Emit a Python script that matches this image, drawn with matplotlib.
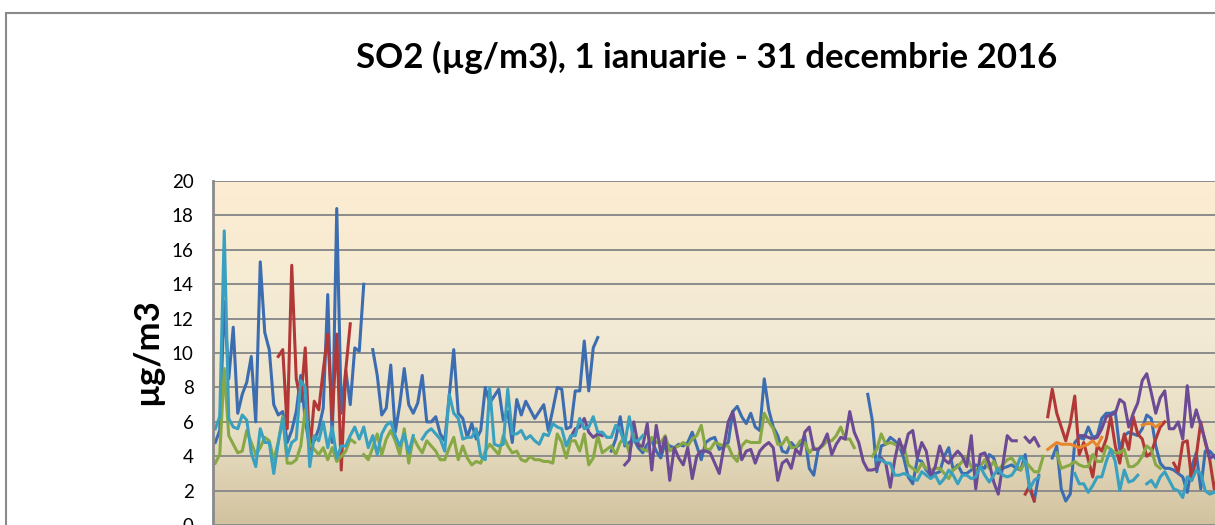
import numpy as np
import matplotlib
matplotlib.use('Agg')
import matplotlib.pyplot as plt
from matplotlib.patches import Rectangle

plt.rcParams['font.family'] = ['Lato', 'DejaVu Sans']

TITLE = 'SO2 (µg/m3), 1 ianuarie - 31 decembrie 2016'
Y_LABEL = 'µg/m3'
Y_TICKS = [0, 2, 4, 6, 8, 10, 12, 14, 16, 18, 20]
N_DAYS = 366

# daily values, each segment starts at a day index (0 = 1 ianuarie)
BLUE_A = [4.8, 5.5, 13.0, 8.5, 11.5, 6.5, 7.6, 8.3, 9.8, 6.0, 15.3, 11.2, 10.2, 7.0, 6.4, 6.6, 4.8,
          5.5, 6.6, 8.7, 6.1, 4.5, 4.9, 5.6, 6.8, 13.4, 4.8, 18.4, 6.5, 9.0, 7.0, 10.3, 10.1, 14.0]
BLUE_B = [10.2, 8.7, 6.4, 6.8, 9.3, 5.4, 7.0, 9.1, 7.0, 6.5, 7.1, 8.7, 6.0, 6.0, 6.3, 5.3, 4.9,
          7.5, 10.2, 6.5, 6.2, 5.1, 5.9, 5.0, 5.5, 8.0, 7.1, 7.5, 7.9, 6.1, 6.6, 4.8, 7.3, 6.4,
          7.2, 6.7, 6.2, 6.6, 7.0, 5.5, 6.7, 8.0, 7.9, 5.6, 5.7, 7.8, 7.8, 10.7, 7.8, 10.3, 10.9]
BLUE_C = [4.3, 5.0, 6.3, 4.6, 4.8, 5.0, 4.5, 4.2, 4.7, 4.9, 4.3, 3.9, 4.8, 4.6, 4.5, 4.7, 4.6,
          4.8, 5.4, 4.6, 3.8, 4.8, 5.0, 5.1, 4.4, 4.6, 4.8, 6.6, 6.9, 6.3, 5.9, 6.5, 5.7, 5.5,
          8.5, 6.7, 5.7, 5.2, 4.3, 4.2, 4.8, 4.5, 4.7, 5.2, 3.3, 2.9, 4.4]
BLUE_D = [7.6, 6.1, 3.1, 4.6, 4.7, 5.1, 4.9, 4.6, 3.9, 2.8, 2.4, 3.8, 3.7, 3.2, 2.9, 3.0, 3.1,
          4.0, 4.5, 3.2, 3.5, 3.0, 3.0, 3.2, 3.5, 3.4, 3.3, 4.1, 3.9, 3.0, 3.3, 3.4, 3.5, 3.3,
          3.2, 4.1, 2.1, 1.4, 2.9]
BLUE_E = [3.9, 4.6, 2.1, 1.4, 1.8, 4.8, 5.1, 5.0, 5.7, 5.1, 5.2, 6.2, 6.5, 6.5, 6.6, 4.4, 5.2,
          5.4, 5.3, 5.2, 5.6, 6.4, 6.2, 4.6, 3.6, 3.3, 3.3, 3.2, 3.0, 2.8, 1.9, 3.4, 4.2, 2.1,
          4.3, 4.3, 4.0, 3.6]

RED_A = [9.8, 10.2, 5.6, 15.1, 8.5, 7.2, 10.3, 4.2, 7.2, 6.7, 9.0, 11.1, 6.1, 11.1, 3.2, 9.0, 11.7]
RED_B = [1.8, 2.3, 1.4]
RED_C = [6.3, 7.9, 6.5, 5.7, 4.9, 5.9, 7.5, 4.1, 4.8, 3.8, 2.8, 4.6, 4.3, 5.0, 6.3, 4.6, 3.6,
         5.3, 4.4, 6.3, 5.3, 5.0, 4.0, 4.2, 5.0, 5.7, 6.0]
RED_D = [3.6, 3.1, 4.8, 4.9, 2.6, 4.0, 6.0, 4.8, 3.8, 2.1, 3.0]

GREEN_A = [3.6, 4.1, 9.1, 5.2, 4.7, 4.2, 4.3, 5.5, 4.8, 4.1, 4.5, 5.1, 4.9, 3.8, 4.8, 6.3, 3.6,
           3.6, 3.8, 4.6, 6.7, 4.7, 4.4, 4.1, 4.5, 3.8, 4.5, 3.7, 4.0, 4.3, 5.0, 4.8]
GREEN_B = [4.1, 3.8, 4.5, 5.3, 4.1, 5.0, 5.5, 4.9, 4.1, 5.6, 3.6, 5.1, 4.6, 4.2, 4.9,
           4.6, 4.3, 3.8, 3.8, 4.5, 5.1, 3.8, 4.6, 3.9, 3.5, 3.7, 3.6, 4.3, 4.7, 4.4, 4.1, 5.2,
           4.6, 4.2, 4.3, 3.8, 3.7, 4.0, 3.8, 3.8, 3.7, 3.7, 3.6, 5.3, 4.8, 3.9, 4.9, 4.9, 4.3,
           5.3, 3.5, 3.9, 5.2, 4.2, 4.4, 4.6, 4.1, 4.8, 5.1, 4.2, 5.2, 4.8, 4.4, 4.3, 5.1, 4.8,
           4.8, 5.2, 4.3, 4.5, 4.6, 4.8, 4.6, 5.0, 5.2,
           5.8, 4.4, 4.4, 4.8, 4.7, 4.6, 4.6, 4.0, 3.7, 4.6, 4.9, 4.8, 4.8, 4.8, 6.5, 6.0, 5.6,
           4.7, 4.7, 5.1, 4.5, 4.5, 4.9, 4.8, 4.2, 4.5, 4.4, 4.6, 4.9, 4.9, 5.2, 5.7, 5.0, 5.0, 4.5]
GREEN_C = [4.0, 4.4, 5.3, 4.7, 4.8, 4.7, 4.5, 4.6, 3.5, 3.3, 3.1, 3.6, 3.3, 3.2, 3.3, 3.3, 3.0,
           2.7, 3.2, 3.4, 3.7, 4.0, 3.4, 3.2, 3.4, 3.8, 3.3, 3.7, 3.2, 3.5, 3.8, 3.9, 3.5, 3.2,
           3.7, 3.4, 3.1, 3.1, 4.0]
GREEN_D = [4.2, 3.3, 3.4, 3.5, 3.7, 3.5, 3.4, 3.4, 4.1, 3.7, 3.7, 4.6, 4.4, 4.2, 4.2, 4.4, 3.4,
           3.4, 3.6, 4.0, 4.6, 4.4, 3.5, 3.3]

PURPLE_A = [5.1, 5.6, 5.7, 6.2, 5.4, 5.1, 5.3, 5.2]
PURPLE_B = [3.5, 3.8, 6.0, 4.6, 4.6, 5.9, 3.2, 5.8, 4.2, 5.1, 2.6, 4.5, 3.9, 3.5, 4.5, 2.7, 4.0,
            4.3, 4.3, 4.2, 3.6, 3.0, 4.5, 6.0, 6.6, 5.2, 3.8, 4.3, 4.4, 3.6, 4.3, 4.6, 4.8, 4.5,
            2.6, 3.6, 3.8, 3.3, 4.4, 4.1, 5.4, 5.7, 4.4, 4.4, 4.7, 5.3, 4.1, 4.7, 5.1, 5.0, 6.6,
            5.4, 4.8, 3.7, 3.2, 3.2, 3.3, 3.9, 3.6, 2.2, 3.8, 5.0, 4.2, 5.3, 5.5, 3.9, 4.8, 4.3,
            2.8, 3.4, 4.6, 3.8, 3.6, 4.0, 4.3, 4.0, 3.4, 5.2, 2.1, 4.1, 4.2, 3.6, 2.5, 1.8, 3.5,
            5.2, 4.9, 4.9]
PURPLE_C = [5.1, 4.8, 5.1, 4.6]
PURPLE_D = [5.2, 5.2, 5.1, 5.0, 5.1, 5.6, 6.3, 6.4, 6.5, 7.3, 7.1, 5.7, 6.5, 7.1, 8.4, 8.8, 7.7,
            6.5, 7.4, 7.8, 5.6, 5.6, 6.0, 5.0, 8.1, 5.7, 6.7, 5.8, 4.9, 3.9, 4.0, 4.2]

CYAN_A = [5.6, 6.3, 17.1, 6.2, 5.7, 5.6, 6.4, 6.1, 4.2, 3.4, 5.6, 4.8, 4.8, 3.0, 4.8, 6.2, 4.0,
          4.8, 5.0, 8.4, 8.0, 3.4, 5.2, 4.9, 6.0, 4.5, 5.7, 3.9, 4.6, 4.6, 5.2, 5.7, 5.0, 5.7,
          4.5, 5.2, 4.1, 5.3, 5.8, 6.0, 5.2, 4.6, 5.3, 4.2, 5.2]
CYAN_B = [5.0, 5.4, 5.6, 5.3, 5.0, 4.3, 7.6, 6.5, 6.2, 5.0, 5.1, 5.1, 5.6, 4.0, 3.8, 8.0, 4.7,
          4.6, 4.7, 7.9, 5.3, 5.3, 5.5, 5.0, 5.2, 4.9, 4.7, 5.3, 5.2, 5.9, 5.7, 5.6, 4.6, 5.2,
          5.2, 6.2, 5.6, 5.7, 6.3, 5.4, 5.4, 5.1, 5.1, 5.8, 5.5, 4.7, 6.3, 4.9, 4.9, 5.2]
CYAN_C = [3.8, 3.8, 3.6, 3.6, 2.9, 2.9, 3.0, 2.9, 2.7, 2.6, 3.1, 2.9, 2.7, 2.9, 2.4, 2.7, 3.2,
          2.9, 2.4, 2.9, 2.9, 2.7, 2.8, 3.4, 2.9, 2.5, 2.9, 3.3, 2.9, 2.8, 2.9, 3.3, 4.0, 3.7,
          2.1, 2.6, 2.8]
CYAN_D = [3.0, 2.4, 2.4, 1.9, 2.3, 2.8, 2.8, 3.7, 4.4, 3.7, 2.0, 3.2, 2.5, 2.6, 2.9]
CYAN_E = [2.4, 2.6, 2.2, 2.8, 3.1, 2.6, 2.1, 2.0, 1.6, 2.8, 2.6, 3.2, 3.0, 2.0, 1.8, 1.9, 2.0]

ORANGE_A = [4.4, 4.6, 4.8, 4.7, 4.7, 4.7, 4.6, 4.5, 4.6, 4.7, 4.9, 4.6, 5.1]
ORANGE_B = [5.8, 5.9, 5.9, 5.7, 5.9]

SERIES = [
    ('#3d6db1', [(0, BLUE_A), (35, BLUE_B), (88, BLUE_C), (145, BLUE_D), (186, BLUE_E)]),
    ('#b23838', [(14, RED_A), (180, RED_B), (185, RED_C), (213, RED_D)]),
    ('#87a844', [(0, GREEN_A), (33, GREEN_B), (146, GREEN_C), (187, GREEN_D)]),
    ('#6c4b94', [(79, PURPLE_A), (91, PURPLE_B), (180, PURPLE_C), (192, PURPLE_D)]),
    ('#39a0bf', [(0, CYAN_A), (46, CYAN_B), (147, CYAN_C), (191, CYAN_D), (207, CYAN_E)]),
    ('#e8862e', [(185, ORANGE_A), (206, ORANGE_B)]),
]


def build_series(segments):
    y = np.full(N_DAYS, np.nan)
    for start, vals in segments:
        y[start:start + len(vals)] = vals
    return y


W, H = 1215, 525
fig = plt.figure(figsize=(W / 100, H / 100), dpi=100)

# plot area: left edge at 213px, 20 at 181px, 0 at 525px, 4.5px per day
left = 213 / W
bottom = (H - 525.1) / H
top = 1 - 181 / H
ax = fig.add_axes([left, bottom, N_DAYS * 4.5 / W, top - bottom])
ax.set_xlim(-0.5, N_DAYS - 0.5)
ax.set_ylim(0, 20)

# gradient background
stops = np.array([0.0, 0.25, 0.55, 1.0])
cols = np.array([[210, 194, 158], [231, 221, 194], [242, 234, 213], [253, 237, 209]]) / 255
t = np.linspace(0, 1, 256)
grad = np.stack([np.interp(t, stops, cols[:, i]) for i in range(3)], axis=-1)[:, None, :]
ax.imshow(grad, extent=[-0.5, N_DAYS - 0.5, 0, 20], origin='lower', aspect='auto', zorder=0)

for y in Y_TICKS:
    ax.axhline(y, color='#8c8c8c', lw=1.4, zorder=1)

days = np.arange(N_DAYS)
for color, segs in SERIES:
    ax.plot(days, build_series(segs), color=color, lw=2.2, solid_joinstyle='round', zorder=2)

ax.set_yticks(Y_TICKS)
ax.set_xticks([])
ax.tick_params(axis='y', length=0, pad=14, labelsize=13.5)
for s in ['top', 'right', 'bottom']:
    ax.spines[s].set_visible(False)
ax.spines['left'].set_color('#8a8a8a')
ax.spines['left'].set_linewidth(2)
ax.spines['left'].set_zorder(3)

fig.text(707 / W, 1 - 57 / H, TITLE, ha='center', va='center', fontsize=25, fontweight='bold')
fig.text(147 / W, 1 - 352 / H, Y_LABEL, ha='center', va='center', rotation=90,
         fontsize=25, fontweight='bold')

fig.add_artist(Rectangle((6 / W, -0.1), 1.2, 1 - 12.5 / H + 0.1, transform=fig.transFigure,
                         fill=False, ec='#8a8a8a', lw=1.5))

fig.savefig('out.png', dpi=100)
plt.close()
